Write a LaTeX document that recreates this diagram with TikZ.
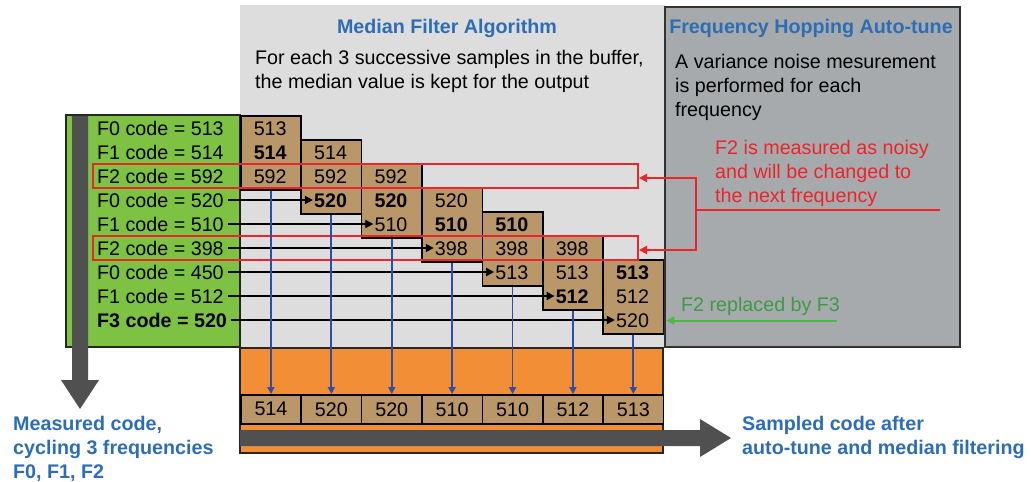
\documentclass[tikz,border=0pt]{standalone}
\usepackage{fontspec}
\setmainfont{Liberation Sans}
\usetikzlibrary{arrows.meta}
\definecolor{lgrey}{HTML}{DDDDDD}
\definecolor{pgrey}{HTML}{A7AAAD}
\definecolor{gpanel}{HTML}{7DC243}
\definecolor{opanel}{HTML}{F18E36}
\definecolor{brownc}{HTML}{B99769}
\definecolor{darkc}{HTML}{505050}
\definecolor{titleblue}{HTML}{2D6DB5}
\definecolor{redc}{HTML}{E8262B}
\definecolor{gtext}{HTML}{3D9B45}
\definecolor{garrow}{HTML}{4DB848}
\definecolor{barrow}{HTML}{2E4DA6}
\newcommand\mysz{\fontsize{19.7}{24}\selectfont}
\begin{document}
\begin{tikzpicture}[x=1pt,y=-1pt,
  win/.style={draw=black,line width=1.5pt,fill=brownc,minimum width=60.4pt,minimum height=74pt,inner sep=0pt,anchor=north west},
  val/.style={inner sep=1pt,text height=14.1pt,text depth=0pt,font=\mysz},
  lbl/.style={val,anchor=west},
  blk/.style={-{Triangle[length=8pt,width=8pt]},line width=1.8pt,black,shorten <=3pt},
  blu/.style={-{Triangle[length=7pt,width=7pt]},line width=1.8pt,barrow},
  redl/.style={line width=2pt,redc},
  redarr/.style={redl,-{Triangle[length=8pt,width=8pt]}},
  redbox/.style={draw=redc,line width=2pt,minimum width=545pt,minimum height=24pt,inner sep=0pt,anchor=north west},
  grnarr/.style={line width=2pt,garrow,-{Triangle[length=8pt,width=8pt]}},
  txt/.style={inner sep=0pt,font=\mysz,align=left,anchor=north west}]
\useasboundingbox (0,0) rectangle (1031,482);
% panels
\fill[lgrey] (240,5) rectangle (665,348);
\draw[fill=pgrey,draw=black!80,line width=1.8pt] (665,7) rectangle (960,347);
\draw[fill=gpanel,draw=black!85,line width=1.5pt] (66,115) rectangle (240,347);
\draw[fill=opanel,draw=black!85,line width=1.5pt] (240,348) rectangle (663,453);
% big arrows
\fill[darkc] (72,116) -- (88,116) -- (88,380) -- (99,380) -- (80,409) -- (61,380) -- (72,380) -- cycle;
\fill[darkc] (240,430) -- (700,430) -- (700,419) -- (731,438) -- (700,457) -- (700,446) -- (240,446) -- cycle;
% window boxes
\foreach \i/\a/\b/\c in {0/513/\textbf{514}/592,1/514/592/\textbf{520},2/592/\textbf{520}/510,3/520/\textbf{510}/398,4/\textbf{510}/398/513,5/398/513/\textbf{512},6/\textbf{513}/512/520}{
  \node[win] (w\i) at ({240+60.4*\i},{115+24*\i}) {};
  \node[val] (v\i-a) at ({270.2+60.4*\i},{128+24*\i}) {\a};
  \node[val] (v\i-b) at ({270.2+60.4*\i},{152+24*\i}) {\b};
  \node[val] (v\i-c) at ({270.2+60.4*\i},{176+24*\i}) {\c};
}
% output boxes
\foreach \i/\v in {0/514,1/520,2/520,3/510,4/510,5/512,6/513}{
  \node[win,minimum height=29pt,font=\mysz] (o\i) at ({240+60.4*\i},394) {\v};
}
% labels
\foreach \r/\t in {0/F0 code = 513,1/F1 code = 514,2/F2 code = 592,3/F0 code = 520,4/F1 code = 510,5/F2 code = 398,6/F0 code = 450,7/F1 code = 512,8/\textbf{F3 code = 520}}{
  \node[lbl] (l\r) at (96,{128+24*\r}) {\t};
}
% red boxes
\node[redbox] (rb1) at (92,162.5) {};
\node[redbox] (rb2) at (92,234.5) {};
% black arrows
\foreach \r in {3,...,8}{
  \pgfmathtruncatemacro\j{\r-2}
  \draw[blk] (l\r.east) -- (v\j-c.west);
}
% blue arrows
\foreach \i in {0,...,6}{
  \draw[blu] (w\i.south) -- (o\i.north);
}
% red connector
\coordinate (jn) at (696,210);
\coordinate (re) at (940,210);
\draw[redl] (re) -- (jn);
\draw[redarr] (jn) |- ([yshift=-2.5pt]rb1.east);
\draw[redarr] (jn) |- ([yshift=-2.5pt]rb2.east);
% green arrow
\coordinate (ge) at (837,320.5);
\draw[grnarr] (ge) -- ([xshift=2pt]w6.east |- ge);
% texts
\node[font=\mysz\bfseries,text=titleblue,anchor=base,inner sep=0pt] (t1) at (447,33) {Median Filter Algorithm};
\node[font=\mysz\bfseries,text=titleblue,anchor=base,inner sep=0pt] (t2) at (811,33) {Frequency Hopping Auto-tune};
\node[txt] (b1) at (255,49.8) {For each 3 successive samples in the buffer,\\the median value is kept for the output};
\node[txt] (b2) at (675,54) {A variance noise mesurement\\is performed for each\\frequency};
\node[txt,text=redc] (b3) at (715,140) {F2 is measured as noisy\\and will be changed to\\the next frequency};
\node[font=\mysz,text=gtext,anchor=base west,inner sep=0pt] (b4) at (681,311) {F2 replaced by F3};
\node[txt,font=\mysz\bfseries,text=titleblue] (b5) at (13,416) {Measured code,\\cycling 3 frequencies\\F0, F1, F2};
\node[txt,font=\mysz\bfseries,text=titleblue] (b6) at (742,416) {Sampled code after\\auto-tune and median filtering};
\end{tikzpicture}
\end{document}
